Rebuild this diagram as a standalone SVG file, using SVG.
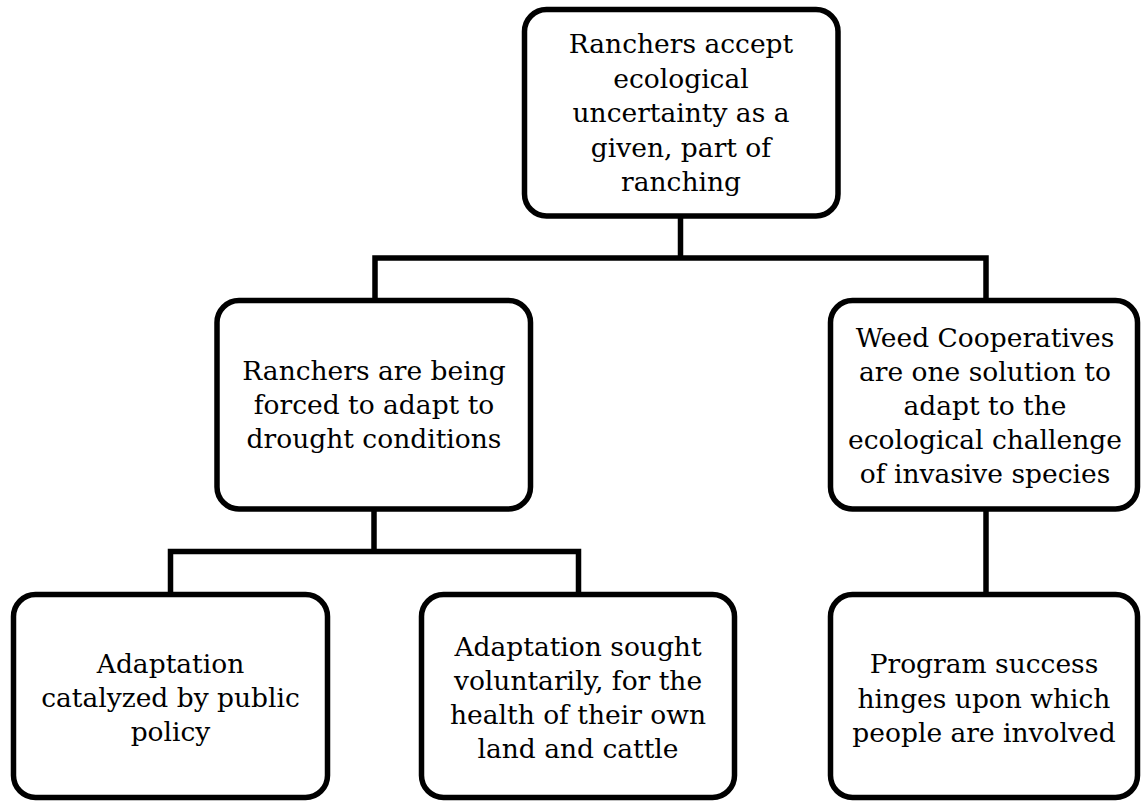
<svg xmlns="http://www.w3.org/2000/svg" width="1141" height="801" viewBox="0 0 1141 801">
<style>
.box{fill:#fff;stroke:#000;stroke-width:5.5}
.lbl{font-family:"DejaVu Serif","Liberation Serif",serif;font-size:26.5px;fill:#000;text-anchor:middle}
.conn{fill:none;stroke:#000;stroke-width:5.5;stroke-linejoin:miter}
</style>
<rect width="1141" height="801" fill="#fff"/>
<g id="connectors">
<path class="conn" d="M680.5,216 V258"/>
<path class="conn" d="M375,300.5 V258 H986 V300.5"/>
<path class="conn" d="M374,509 V551.5"/>
<path class="conn" d="M170.5,594.5 V551.5 H578.5 V594.5"/>
<path class="conn" d="M986,509 V594.5"/>
</g>
<g id="n_top">
<rect class="box" x="524.5" y="9.5" width="313.5" height="206.5" rx="22"/>
<text class="lbl" x="681"><tspan x="681" y="53">Ranchers accept</tspan><tspan x="681" y="87.5">ecological</tspan><tspan x="681" y="122">uncertainty as a</tspan><tspan x="681" y="156.5">given, part of</tspan><tspan x="681" y="191">ranching</tspan></text>
</g>
<g id="n_drought">
<rect class="box" x="217" y="300.5" width="313.5" height="208.5" rx="22"/>
<text class="lbl"><tspan x="374" y="380">Ranchers are being</tspan><tspan x="374" y="414">forced to adapt to</tspan><tspan x="374" y="448">drought conditions</tspan></text>
</g>
<g id="n_weed">
<rect class="box" x="830.5" y="300.5" width="307" height="208.5" rx="22"/>
<text class="lbl"><tspan x="985" y="346.5">Weed Cooperatives</tspan><tspan x="985" y="380.5">are one solution to</tspan><tspan x="985" y="414.5">adapt to the</tspan><tspan x="985" y="448.5">ecological challenge</tspan><tspan x="985" y="482.5">of invasive species</tspan></text>
</g>
<g id="n_policy">
<rect class="box" x="13.5" y="594.5" width="314" height="203" rx="22"/>
<text class="lbl"><tspan x="170.5" y="673">Adaptation</tspan><tspan x="170.5" y="707">catalyzed by public</tspan><tspan x="170.5" y="740.5">policy</tspan></text>
</g>
<g id="n_voluntary">
<rect class="box" x="421.5" y="594.5" width="313" height="203" rx="22"/>
<text class="lbl"><tspan x="578" y="656">Adaptation sought</tspan><tspan x="578" y="690">voluntarily, for the</tspan><tspan x="578" y="724">health of their own</tspan><tspan x="578" y="758">land and cattle</tspan></text>
</g>
<g id="n_program">
<rect class="box" x="830.5" y="594.5" width="307" height="203" rx="22"/>
<text class="lbl"><tspan x="984" y="673">Program success</tspan><tspan x="984" y="707.5">hinges upon which</tspan><tspan x="984" y="742">people are involved</tspan></text>
</g>
</svg>
